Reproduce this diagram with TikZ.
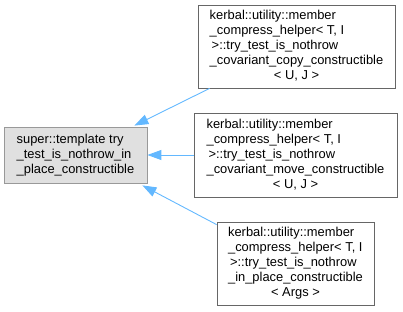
\documentclass[tikz,border=0pt]{standalone}
\usepackage{fontspec}
\setmainfont{Liberation Sans}
\usetikzlibrary{arrows.meta,calc}
\definecolor{edgeblue}{HTML}{63B8FF}
\definecolor{basefill}{HTML}{E0E0E0}
\definecolor{baseline}{HTML}{999999}
\definecolor{derivline}{HTML}{666666}
% label block: left-aligned lines, optional centred last line
\newcommand{\lbl}[1]{\begin{tabular}{@{}l@{}}#1\end{tabular}}
\newcommand{\lastc}[1]{\multicolumn{1}{@{}c@{}}{#1}}
\begin{document}
\begin{tikzpicture}[x=1pt,y=-1pt,
  every node/.style={font=\fontsize{12.9}{15}\selectfont},
  classbox/.style={draw=derivline,fill=white,line width=0.8pt,rectangle,inner sep=0pt,anchor=center},
  basebox/.style={classbox,draw=baseline,fill=basefill},
  inherit/.style={draw=edgeblue,line width=0.9pt,-{Triangle[length=14pt,width=10pt]}}]
\useasboundingbox (0,0) rectangle (403,311);
\node[basebox,minimum width=143pt,minimum height=56pt] (A) at (75.5,155)
  {\lbl{super::template try\\\_test\_is\_nothrow\_in\\\_place\_constructible}};
\node[classbox,minimum width=197pt,minimum height=83pt] (B) at (296.5,46.5)
  {\lbl{kerbal::utility::member\\\_compress\_helper< T, I\\\hspace{2pt}>::try\_test\_is\_nothrow\\\_covariant\_copy\_constructible\\\lastc{< U, J >}}};
\node[classbox,minimum width=203pt,minimum height=84pt] (C) at (295.5,155.5)
  {\lbl{kerbal::utility::member\\\_compress\_helper< T, I\\\hspace{2pt}>::try\_test\_is\_nothrow\\\_covariant\_move\_constructible\\\lastc{< U, J >}}};
\node[classbox,minimum width=157pt,minimum height=83pt] (D) at (295.5,263.5)
  {\lbl{kerbal::utility::member\\\_compress\_helper< T, I\\\hspace{2pt}>::try\_test\_is\_nothrow\\\_in\_place\_constructible\\\lastc{< Args >}}};
\draw[inherit] ($(B.south west)+(12,0)$) -- ($(A.north east)+(-13,-1)$);
\draw[inherit] (C.west |- A.east) -- (A.east);
\draw[inherit] ($(D.north west)+(0,3)$) -- ($(A.south east)+(-5,2)$);
\end{tikzpicture}
\end{document}
